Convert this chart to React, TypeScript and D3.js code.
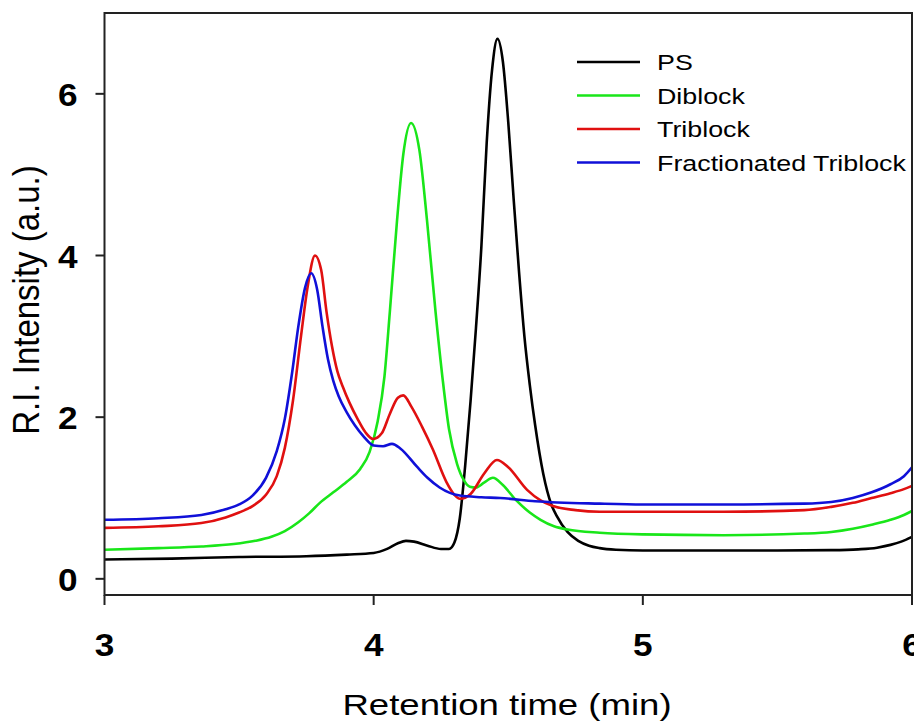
import React from "react";
import * as d3 from "d3";

const xTicks = [3, 4, 5, 6];
const yTicks = [0, 2, 4, 6];
const seriesNames = ["PS", "Diblock", "Triblock", "Fractionated Triblock"];
const seriesColors = ["#000000", "#19e619", "#e01010", "#1010d8"];

const psData: [number, number][] = [
  [3.0, 0.24], [3.25, 0.25], [3.5, 0.27], [3.75, 0.28], [3.9, 0.3], [4.0, 0.32],
  [4.05, 0.37], [4.09, 0.44], [4.12, 0.47], [4.15, 0.46], [4.2, 0.41], [4.25, 0.37],
  [4.28, 0.37], [4.3, 0.45], [4.32, 0.75], [4.34, 1.4], [4.36, 2.2], [4.38, 3.1],
  [4.4, 4.1], [4.42, 5.4], [4.44, 6.3], [4.46, 6.68], [4.48, 6.4], [4.5, 5.65],
  [4.52, 4.7], [4.54, 3.8], [4.56, 3.0], [4.58, 2.4], [4.6, 1.9], [4.63, 1.3],
  [4.66, 0.92], [4.68, 0.78], [4.72, 0.58], [4.76, 0.47], [4.8, 0.41], [4.84, 0.38],
  [4.9, 0.36], [5.0, 0.35], [5.5, 0.35], [5.7, 0.355], [5.8, 0.365], [5.87, 0.385],
  [5.92, 0.42], [5.96, 0.46], [6.0, 0.52],
];

const diblockData: [number, number][] = [
  [3.0, 0.36], [3.2, 0.38], [3.36, 0.4], [3.48, 0.43], [3.56, 0.47], [3.62, 0.52],
  [3.67, 0.59], [3.72, 0.7], [3.76, 0.81], [3.8, 0.94], [3.85, 1.07], [3.9, 1.2],
  [3.95, 1.36], [3.985, 1.57], [4.015, 1.95], [4.04, 2.5], [4.06, 3.3], [4.087, 4.44],
  [4.11, 5.25], [4.139, 5.64], [4.17, 5.3], [4.198, 4.44], [4.23, 3.3], [4.257, 2.45],
  [4.28, 1.85], [4.31, 1.42], [4.335, 1.22], [4.357, 1.14], [4.38, 1.13], [4.41, 1.19],
  [4.443, 1.25], [4.48, 1.16], [4.53, 0.97], [4.58, 0.82], [4.62, 0.73], [4.67, 0.65],
  [4.72, 0.61], [4.84, 0.57], [5.0, 0.55], [5.3, 0.54], [5.6, 0.56], [5.7, 0.58],
  [5.78, 0.62], [5.85, 0.67], [5.92, 0.73], [5.97, 0.79], [6.0, 0.84],
];

const triblockData: [number, number][] = [
  [3.0, 0.63], [3.2, 0.65], [3.36, 0.69], [3.45, 0.76], [3.5, 0.82], [3.55, 0.9],
  [3.6, 1.04], [3.64, 1.27], [3.67, 1.62], [3.7, 2.2], [3.73, 3.0], [3.755, 3.62],
  [3.782, 4.0], [3.805, 3.82], [3.825, 3.3], [3.845, 2.88], [3.865, 2.57], [3.885, 2.38],
  [3.91, 2.18], [3.94, 1.98], [3.97, 1.81], [3.998, 1.73], [4.03, 1.8], [4.06, 2.04],
  [4.09, 2.24], [4.11, 2.27], [4.14, 2.13], [4.18, 1.88], [4.22, 1.6], [4.27, 1.2],
  [4.3, 1.04], [4.32, 0.99], [4.36, 1.05], [4.41, 1.3], [4.458, 1.47], [4.5, 1.38],
  [4.57, 1.1], [4.62, 0.97], [4.666, 0.9], [4.75, 0.85], [4.84, 0.83], [5.0, 0.83],
  [5.3, 0.83], [5.6, 0.85], [5.7, 0.89], [5.78, 0.94], [5.85, 1.0], [5.92, 1.06],
  [5.97, 1.11], [6.0, 1.15],
];

const fracData: [number, number][] = [
  [3.0, 0.73], [3.2, 0.75], [3.36, 0.79], [3.45, 0.86], [3.5, 0.92], [3.55, 1.03],
  [3.6, 1.25], [3.64, 1.58], [3.67, 1.98], [3.697, 2.55], [3.72, 3.12], [3.745, 3.6],
  [3.768, 3.78], [3.79, 3.58], [3.81, 3.12], [3.83, 2.72], [3.85, 2.45], [3.87, 2.26],
  [3.9, 2.06], [3.93, 1.9], [3.963, 1.76], [4.0, 1.65], [4.035, 1.64], [4.068, 1.67],
  [4.1, 1.61], [4.16, 1.39], [4.2, 1.25], [4.245, 1.13], [4.32, 1.03], [4.4, 1.01],
  [4.47, 1.0], [4.6, 0.96], [4.84, 0.93], [5.0, 0.92], [5.3, 0.92], [5.6, 0.93],
  [5.7, 0.95], [5.78, 1.0], [5.85, 1.07], [5.92, 1.17], [5.97, 1.27], [6.0, 1.38],
];

const allSeries = [psData, diblockData, triblockData, fracData];

const W = 914;
const H = 724;
const left = 104.5;
const right = 912;
const top = 13;
const bottom = 595;

export default function App() {
  const x = d3.scaleLinear().domain([3, 6]).range([left, right]);
  const y = d3.scaleLinear().domain([-0.2, 7.0]).range([bottom, top]);
  const line = d3
    .line<[number, number]>()
    .x((d) => x(d[0]))
    .y((d) => y(d[1]))
    .curve(d3.curveMonotoneX);

  const font = "'Liberation Sans', Arial, sans-serif";
  const axisColor = "#222";

  return (
    <svg
      width={W}
      height={H}
      style={{ position: "absolute", left: 0, top: 0, background: "#fff" }}
      fontFamily={font}
    >
      <rect x={0} y={0} width={W} height={H} fill="#fff" />
      <defs>
        <clipPath id="plotclip">
          <rect x={left} y={top} width={right - left} height={bottom - top} />
        </clipPath>
      </defs>
      <g clipPath="url(#plotclip)">
        {allSeries.map((s, i) => (
          <path
            key={i}
            d={line(s) || ""}
            fill="none"
            stroke={seriesColors[i]}
            strokeWidth={2.6}
            strokeLinejoin="round"
          />
        ))}
      </g>
      <rect
        x={left}
        y={top}
        width={right - left}
        height={bottom - top}
        fill="none"
        stroke={axisColor}
        strokeWidth={2}
      />
      {yTicks.map((t) => (
        <g key={"y" + t}>
          <line x1={left - 9} x2={left} y1={y(t)} y2={y(t)} stroke={axisColor} strokeWidth={2} />
          <g transform={`translate(${left - 27},${y(t) + 12}) scale(1.1,1)`}>
            <text textAnchor="end" fontSize={32} fontWeight="bold" fill="#000">
              {t}
            </text>
          </g>
        </g>
      ))}
      {xTicks.map((t) => (
        <g key={"x" + t}>
          <line x1={x(t)} x2={x(t)} y1={bottom} y2={bottom + 10} stroke={axisColor} strokeWidth={2} />
          <g transform={`translate(${x(t)},${656}) scale(1.1,1)`}>
            <text textAnchor="middle" fontSize={32} fontWeight="bold" fill="#000">
              {t}
            </text>
          </g>
        </g>
      ))}
      <g transform={`translate(${507},${715}) scale(1.24,1)`}>
        <text textAnchor="middle" fontSize={29.5} fill="#000">
          Retention time (min)
        </text>
      </g>
      <g transform={`translate(${39},${300}) scale(1.1,1) rotate(-90)`}>
        <text textAnchor="middle" fontSize={33} fill="#000">
          R.I. Intensity (a.u.)
        </text>
      </g>
      {seriesNames.map((n, i) => {
        const ly = 62 + i * 33.5;
        return (
          <g key={n}>
            <line x1={577} x2={640} y1={ly} y2={ly} stroke={seriesColors[i]} strokeWidth={2.6} />
            <g transform={`translate(${657},${ly + 8}) scale(1.22,1)`}>
              <text fontSize={22} fill="#000">
                {n}
              </text>
            </g>
          </g>
        );
      })}
    </svg>
  );
}
